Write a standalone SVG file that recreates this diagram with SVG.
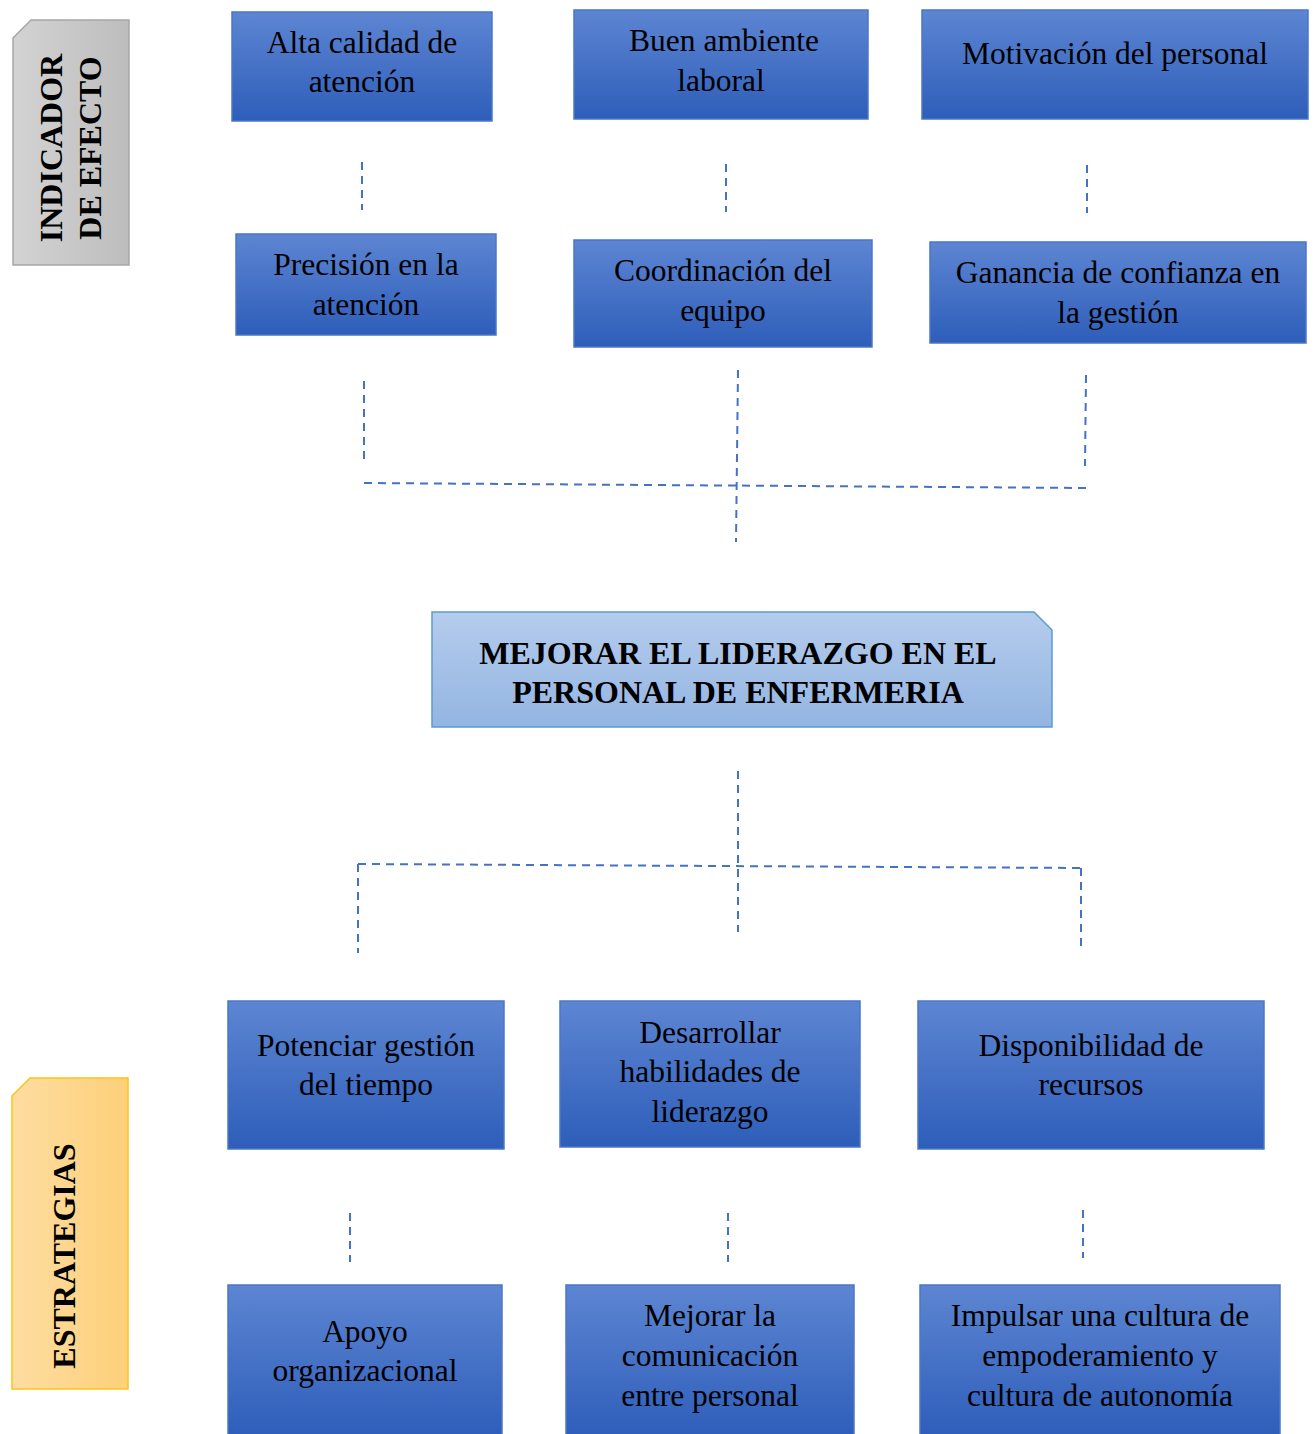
<svg xmlns="http://www.w3.org/2000/svg" width="1316" height="1434" viewBox="0 0 1316 1434">
<defs>
<linearGradient id="gBlue" x1="0" y1="0" x2="0" y2="1">
<stop offset="0" stop-color="#5d85d2"/>
<stop offset="1" stop-color="#2e5eba"/>
</linearGradient>
<linearGradient id="gLight" x1="0" y1="0" x2="0" y2="1">
<stop offset="0" stop-color="#b5ccec"/>
<stop offset="1" stop-color="#93b5e2"/>
</linearGradient>
<linearGradient id="gGray" x1="0" y1="0" x2="1" y2="0">
<stop offset="0" stop-color="#d3d3d3"/>
<stop offset="1" stop-color="#bdbdbd"/>
</linearGradient>
<linearGradient id="gGold" x1="0" y1="0" x2="1" y2="0">
<stop offset="0" stop-color="#fedda2"/>
<stop offset="1" stop-color="#fdd079"/>
</linearGradient>
</defs>
<style>
.box{fill:url(#gBlue);stroke:#4a77c9;stroke-width:1.5}
.t{font-family:"Liberation Serif","Times New Roman",serif;font-size:31.5px;fill:#000;text-anchor:middle}
.b{font-family:"Liberation Serif","Times New Roman",serif;font-size:32px;font-weight:bold;fill:#000;text-anchor:middle}
.d{fill:none;stroke:#4472c4;stroke-width:2;stroke-dasharray:8 6}
</style>
<rect width="1316" height="1434" fill="#fff"/>

<g id="lbl-indicador">
<path d="M13,38 L31,20 L129,20 L129,265 L13,265 Z" fill="url(#gGray)" stroke="#a6a6a6" stroke-width="1.5"/>
<text class="b" transform="translate(62,148) rotate(-90)">INDICADOR</text>
<text class="b" transform="translate(101,148) rotate(-90)">DE EFECTO</text>
</g>
<g id="lbl-estrategias">
<path d="M12,1096 L30,1078 L128,1078 L128,1389 L12,1389 Z" fill="url(#gGold)" stroke="#fcc419" stroke-width="1.5"/>
<text class="b" transform="translate(75,1256) rotate(-90)">ESTRATEGIAS</text>
</g>

<g id="connectors">
<line class="d" x1="362" y1="162" x2="362" y2="210"/>
<line class="d" x1="726" y1="164" x2="726" y2="212"/>
<line class="d" x1="1087" y1="165" x2="1087" y2="213"/>
<line class="d" x1="364" y1="381" x2="364" y2="460"/>
<line class="d" x1="738" y1="370" x2="736" y2="542"/>
<line class="d" x1="1086" y1="375" x2="1085" y2="466"/>
<line class="d" x1="364" y1="483" x2="1087" y2="488"/>
<line class="d" x1="738" y1="771" x2="738" y2="932"/>
<line class="d" x1="358" y1="864" x2="1081" y2="868"/>
<line class="d" x1="358" y1="864" x2="358" y2="953"/>
<line class="d" x1="1081" y1="868" x2="1081" y2="952"/>
<line class="d" x1="350" y1="1213" x2="350" y2="1262"/>
<line class="d" x1="728" y1="1213" x2="728" y2="1262"/>
<line class="d" x1="1083" y1="1210" x2="1083" y2="1258"/>
</g>

<g id="n1"><rect class="box" x="232" y="12" width="260" height="109"/>
<text class="t" x="362" y="53">Alta calidad de</text><text class="t" x="362" y="92">atención</text></g>
<g id="n2"><rect class="box" x="574" y="10" width="294" height="109"/>
<text class="t" x="724" y="51">Buen ambiente</text><text class="t" x="721" y="91">laboral</text></g>
<g id="n3"><rect class="box" x="922" y="10" width="386" height="109"/>
<text class="t" x="1115" y="64">Motivación del personal</text></g>

<g id="n4"><rect class="box" x="236" y="234" width="260" height="101"/>
<text class="t" x="366" y="275">Precisión en la</text><text class="t" x="366" y="315">atención</text></g>
<g id="n5"><rect class="box" x="574" y="240" width="298" height="107"/>
<text class="t" x="723" y="281">Coordinación del</text><text class="t" x="723" y="321">equipo</text></g>
<g id="n6"><rect class="box" x="930" y="242" width="376" height="101"/>
<text class="t" x="1118" y="283">Ganancia de confianza en</text><text class="t" x="1118" y="323">la gestión</text></g>

<g id="center">
<path d="M432,612 L1034,612 L1052,630 L1052,727 L432,727 Z" fill="url(#gLight)" stroke="#5b9bd5" stroke-width="1.5"/>
<text class="b" x="738" y="664">MEJORAR EL LIDERAZGO EN EL</text>
<text class="b" x="738" y="703">PERSONAL DE ENFERMERIA</text>
</g>

<g id="n7"><rect class="box" x="228" y="1001" width="276" height="148"/>
<text class="t" x="366" y="1056">Potenciar gestión</text><text class="t" x="366" y="1095">del tiempo</text></g>
<g id="n8"><rect class="box" x="560" y="1001" width="300" height="146"/>
<text class="t" x="710" y="1043">Desarrollar</text><text class="t" x="710" y="1082">habilidades de</text><text class="t" x="710" y="1122">liderazgo</text></g>
<g id="n9"><rect class="box" x="918" y="1001" width="346" height="148"/>
<text class="t" x="1091" y="1056">Disponibilidad de</text><text class="t" x="1091" y="1095">recursos</text></g>

<g id="n10"><rect class="box" x="228" y="1285" width="274" height="152"/>
<text class="t" x="365" y="1342">Apoyo</text><text class="t" x="365" y="1381">organizacional</text></g>
<g id="n11"><rect class="box" x="566" y="1285" width="288" height="152"/>
<text class="t" x="710" y="1326">Mejorar la</text><text class="t" x="710" y="1366">comunicación</text><text class="t" x="710" y="1406">entre personal</text></g>
<g id="n12"><rect class="box" x="920" y="1285" width="360" height="152"/>
<text class="t" x="1100" y="1326">Impulsar una cultura de</text><text class="t" x="1100" y="1366">empoderamiento y</text><text class="t" x="1100" y="1406">cultura de autonomía</text></g>
</svg>
